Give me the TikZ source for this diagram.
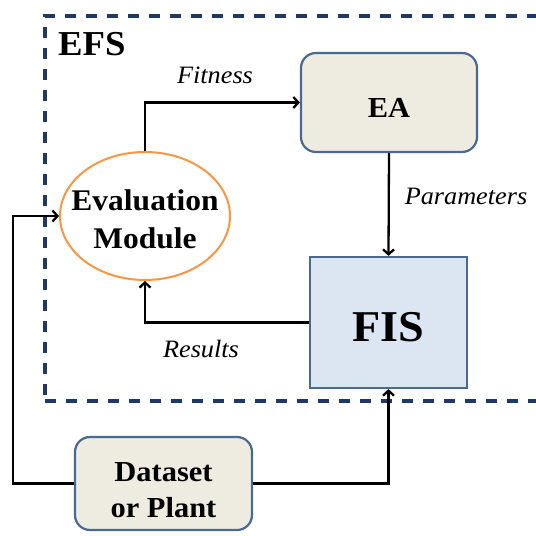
\documentclass[tikz,border=0pt]{standalone}
\usepackage{fontspec}
\setmainfont{Liberation Serif}[FakeStretch=1.05]
\usetikzlibrary{arrows.meta,shapes.geometric}
\definecolor{navy}{HTML}{1F3864}
\definecolor{boxedge}{HTML}{4A6890}
\definecolor{beige}{HTML}{EEECE1}
\definecolor{lightblue}{HTML}{DCE6F2}
\definecolor{evorange}{HTML}{F79646}
\tikzset{
  box/.style={draw=boxedge, line width=2.2pt, inner sep=0pt},
  rbox/.style={box, rounded corners=15pt, fill=beige},
  conn/.style={draw=black, line width=2.3pt, -{Straight Barb[length=5pt,width=11pt]}},
  lbl/.style={font=\fontsize{25}{28}\selectfont\itshape, inner sep=0pt, anchor=base},
  btxt/.style={inner sep=0pt, align=center}
}
\begin{document}
\begin{tikzpicture}[x=1pt,y=-1pt]
\useasboundingbox (0,0) rectangle (536,536);
\clip (0,0) rectangle (536,536);
% EFS frame
\node[draw=navy, line width=3.2pt, dash pattern=on 11pt off 10pt, minimum width=495pt, minimum height=385pt, inner sep=0pt] (frame) at (292.5,208.5) {};
\node[anchor=base west, font=\fontsize{35}{38}\selectfont\bfseries, inner sep=0pt] (efs) at (58,55) {EFS};
% blocks
\node[rbox, minimum width=176pt, minimum height=99pt] (ea) at (389,102.5) {};
\node[inner sep=0pt, anchor=base, font=\fontsize{29}{31}\selectfont\bfseries] (eat) at (389,117) {EA};
\node[box, fill=lightblue, minimum width=157pt, minimum height=131pt] (fis) at (388.5,322.5) {};
\node[inner sep=0pt, anchor=base, font=\fontsize{44}{46}\selectfont\bfseries] (fist) at (388.5,341) {FIS};
\node[ellipse, draw=evorange, line width=2pt, fill=white, minimum width=170pt, minimum height=128pt, inner sep=0pt] (ev) at (145,216) {};
\node[btxt, font=\fontsize{30}{38}\selectfont\bfseries] (evt) at (145,219) {Evaluation\\Module};
\node[rbox, minimum width=177pt, minimum height=93pt] (ds) at (163.5,483.5) {};
\node[btxt, font=\fontsize{29}{36}\selectfont\bfseries] (dst) at (163.5,490.2) {Dataset\\or Plant};
% connectors
\coordinate (dl) at (13,483.5);
\draw[conn] (ev.north) |- (ea.west);
\draw[conn] (ea.south) -- (fis.north);
\draw[conn] (fis.west) -| (ev.south);
\draw[conn] (ds.west) -- (dl) |- (ev.west);
\draw[conn] (ds.east) -| (fis.south);
% labels
\node[lbl] (lfit) at (215,83) {Fitness};
\node[lbl] (lpar) at (466,204) {Parameters};
\node[lbl] (lres) at (201,357) {Results};
\end{tikzpicture}
\end{document}
